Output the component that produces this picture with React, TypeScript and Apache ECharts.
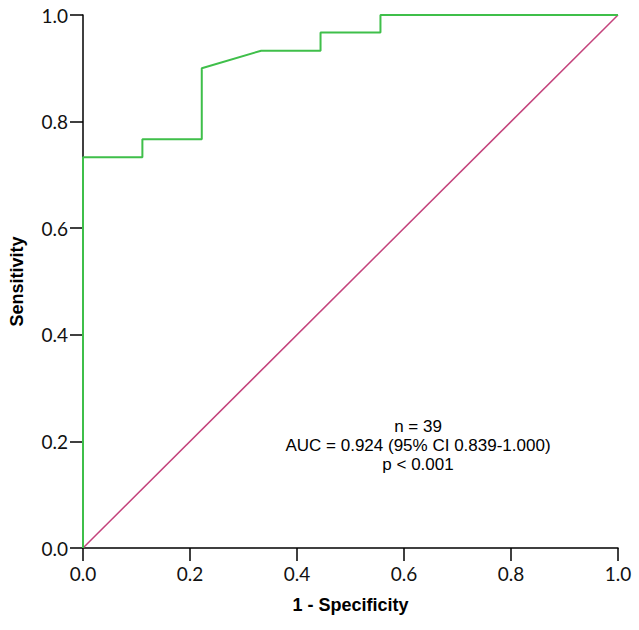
import React, { useEffect, useRef } from "react";
import * as echarts from "echarts";

const fpr = [0, 0, 0.111, 0.111, 0.222, 0.222, 0.333, 0.444, 0.444, 0.556, 0.556, 1.0];
const tpr = [0, 0.733, 0.733, 0.767, 0.767, 0.9, 0.933, 0.933, 0.967, 0.967, 1.0, 1.0];
const refX = [0, 1];
const refY = [0, 1];
const annotation = ["n = 39", "AUC = 0.924 (95% CI 0.839-1.000)", "p < 0.001"];

export default function App() {
  const ref = useRef<HTMLDivElement>(null);
  useEffect(() => {
    if (!ref.current) return;
    const chart = echarts.init(ref.current, null, { renderer: "svg" });
    const axisCommon = {
      type: "value" as const,
      min: 0,
      max: 1,
      interval: 0.2,
      splitLine: { show: false },
      axisLine: { show: true, onZero: false, lineStyle: { color: "#000", width: 1.5 } },
      axisTick: { show: true, inside: false, length: 13, lineStyle: { color: "#000", width: 1.5 } },
      axisLabel: {
        color: "#111",
        fontFamily: "Lato",
        fontSize: 19,
        formatter: (v: number) => v.toFixed(1),
      },
      nameLocation: "middle" as const,
      nameTextStyle: { color: "#000", fontFamily: "Liberation Sans", fontWeight: "bold" as const, fontSize: 18 },
    };
    chart.setOption({
      animation: false,
      backgroundColor: "#fff",
      grid: { left: 83, right: 21, top: 15, bottom: 82, containLabel: false },
      xAxis: { ...axisCommon, name: "1 - Specificity", nameGap: 48, axisLabel: { ...axisCommon.axisLabel, margin: 16 } },
      yAxis: { ...axisCommon, name: "Sensitivity", nameGap: 57, axisLabel: { ...axisCommon.axisLabel, margin: 15 } },
      series: [
        {
          type: "line",
          data: refX.map((x, i) => [x, refY[i]]),
          symbol: "none",
          lineStyle: { color: "#c4437c", width: 1.5 },
          z: 2,
        },
        {
          type: "line",
          data: fpr.map((x, i) => [x, tpr[i]]),
          symbol: "none",
          lineStyle: { color: "#3fbf4a", width: 2 },
          z: 3,
        },
      ],
      graphic: annotation.map((t, i) => ({
        type: "text",
        x: 418,
        y: 426 + i * 19,
        style: {
          text: t,
          fill: "#000",
          font: "17px 'Liberation Sans'",
          align: "center",
          verticalAlign: "middle",
        },
      })),
    });
    return () => chart.dispose();
  }, []);
  return <div ref={ref} style={{ position: "absolute", left: 0, top: 0, width: 639, height: 630 }} />;
}
